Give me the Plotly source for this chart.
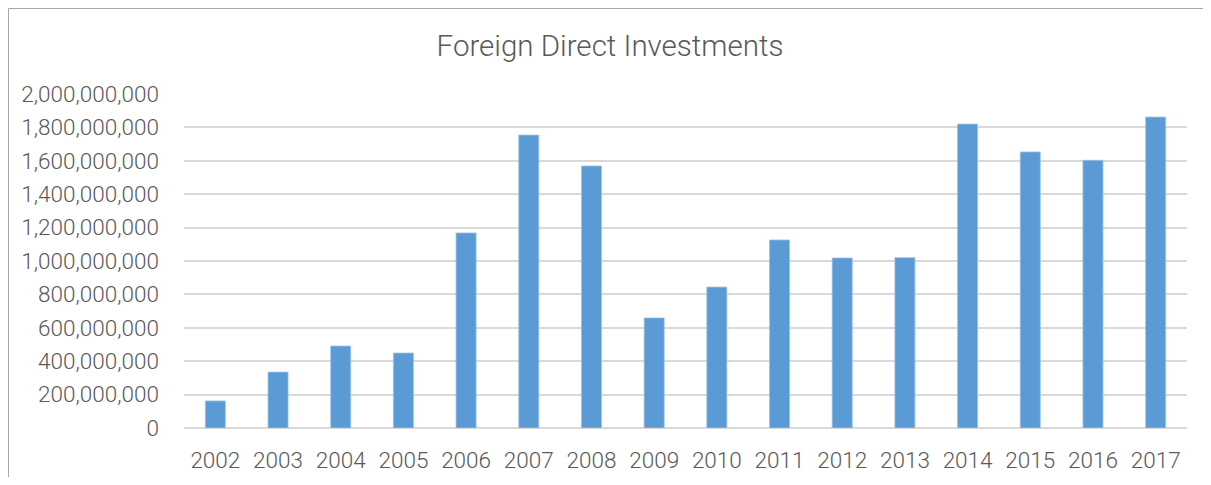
import plotly.graph_objects as go

years = ["2002", "2003", "2004", "2005", "2006", "2007", "2008", "2009",
         "2010", "2011", "2012", "2013", "2014", "2015", "2016", "2017"]
fdi = [162e6, 335e6, 491e6, 449e6, 1168e6, 1754e6, 1569e6, 659e6,
       844e6, 1126e6, 1018e6, 1020e6, 1820e6, 1653e6, 1603e6, 1862e6]
title = "Foreign Direct Investments"

OFF = 8  # page body margin
W, H = 1211 - 2 * OFF, 485 - 2 * OFF
ml = 184 - OFF
mt = 94 - OFF
mr = W - (1187 - OFF)
mb = H - (428 - OFF)
pw, ph = W - ml - mr, H - mt - mb

def fig_to_paper_x(fx):
    return (fx - ml) / pw

def fig_to_paper_y(fy):
    return (H - mb - fy) / ph

fig = go.Figure(go.Bar(
    x=years, y=fdi,
    marker=dict(color="#5B9BD5", line=dict(color="#9DC3E6", width=0.8)),
))

border = dict(color="#A6A6A6", width=1)
fig.update_layout(
    width=W, height=H,
    margin=dict(l=ml, r=mr, t=mt, b=mb),
    paper_bgcolor="white", plot_bgcolor="white",
    bargap=0.68,
    showlegend=False,
    font=dict(family="Roboto", color="#595959", size=22, weight=300),
    title=dict(text=title, x=(610 - OFF) / W, xref="container", xanchor="center",
               y=1 - (46 - OFF) / H, yref="container", yanchor="middle",
               font=dict(family="Roboto", size=29.5, color="#595959", weight=300)),
    xaxis=dict(showgrid=False, showline=False, ticks="", ticklabelstandoff=16,
               tickfont=dict(size=22.5), automargin=False),
    yaxis=dict(range=[0, 2e9], dtick=2e8, tickformat=",d", showline=False,
               gridcolor="#D9D9D9", gridwidth=1.5, zeroline=True,
               zerolinecolor="#D9D9D9", zerolinewidth=1.5, automargin=False,
               ticks="", ticklabelstandoff=24, tickfont=dict(size=22.5)),
    shapes=[
        dict(type="line", xref="paper", yref="paper",
             x0=fig_to_paper_x(0.5), x1=fig_to_paper_x(0.5),
             y0=fig_to_paper_y(H), y1=fig_to_paper_y(0.5),
             line=border, layer="below"),
        dict(type="line", xref="paper", yref="paper",
             x0=fig_to_paper_x(0.5), x1=fig_to_paper_x(W),
             y0=fig_to_paper_y(0.5), y1=fig_to_paper_y(0.5),
             line=border, layer="below"),
    ],
)

fig.write_html("out.html")
